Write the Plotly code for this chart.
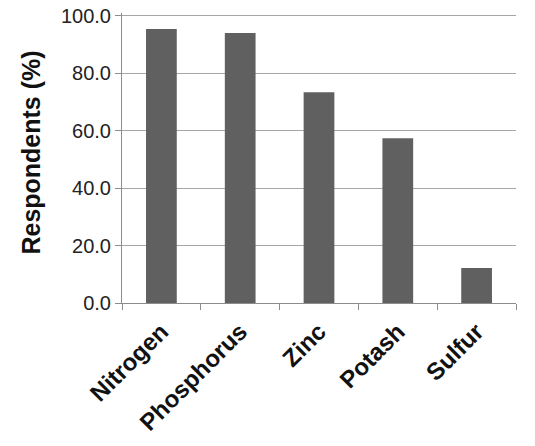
import plotly.graph_objects as go

categories = ["Nitrogen", "Phosphorus", "Zinc", "Potash", "Sulfur"]
values = [95.4, 94.0, 73.4, 57.4, 12.2]
y_ticks = [0, 20, 40, 60, 80, 100]
y_title = "Respondents (%)"

FONT = "Liberation Sans, Arial, sans-serif"

fig = go.Figure(go.Bar(x=categories, y=values, marker=dict(color="#606060", line=dict(width=0))))

fig.update_layout(
    width=535, height=446,
    margin=dict(l=122, r=19, t=13, b=143),
    paper_bgcolor="white", plot_bgcolor="white",
    bargap=0.61,
    showlegend=False,
    font=dict(family=FONT, color="#222222"),
)
fig.update_xaxes(
    showline=True, linecolor="#8c8c8c", linewidth=1,
    ticks="outside", ticklen=6, tickcolor="#8c8c8c", tickson="boundaries",
    showgrid=False, tickangle=-45, automargin=False, ticklabelstandoff=4,
    tickfont=dict(size=24, family=FONT, color="#111111"),
    tickprefix="<b>", ticksuffix="</b>",
)
fig.update_yaxes(
    range=[0, 101], tickvals=y_ticks, tickformat=".1f",
    showline=True, linecolor="#8c8c8c", linewidth=1,
    ticks="outside", ticklen=6, tickcolor="#8c8c8c",
    showgrid=True, gridcolor="#a6a6a6", gridwidth=1, zeroline=False,
    automargin=False,
    tickfont=dict(size=20, color="#222222"),
)
fig.add_annotation(
    text="<b>" + y_title + "</b>", textangle=-90,
    xref="paper", yref="paper", x=-0.23, y=0.52,
    xanchor="center", yanchor="middle", showarrow=False,
    font=dict(size=25, color="#111111", family=FONT),
)

fig.write_html("out.html", config={"displayModeBar": False},
               post_script="document.body.style.margin='0px';")
